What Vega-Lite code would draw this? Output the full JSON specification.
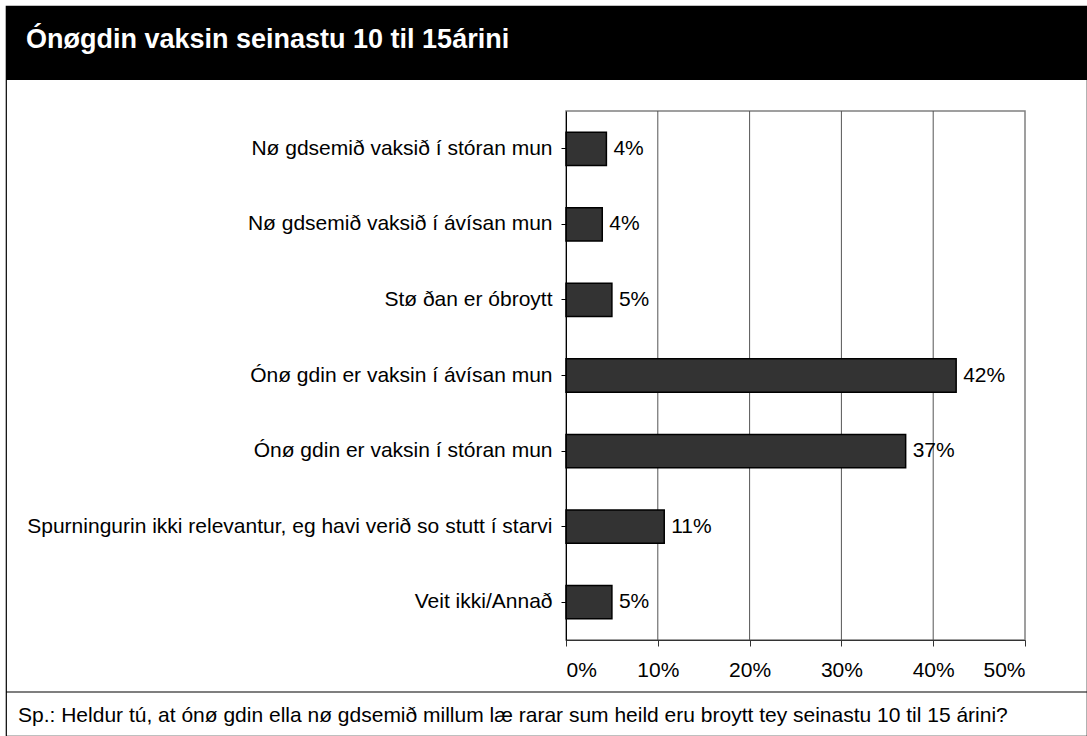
{
  "$schema": "https://vega.github.io/schema/vega-lite/v6.json",
  "background": "white",
  "autosize": {"type": "none"},
  "padding": {"left": 6, "top": 6, "right": 0, "bottom": 0},
  "width": 1081,
  "height": 730,
  "config": {"font": "Liberation Sans"},
  "view": {"stroke": "black", "strokeWidth": 1.2, "fill": "white"},
  "datasets": {
    "bars": [
      {"cat": "Nø gdsemið vaksið í stóran mun", "value": 0.044, "label": "4%"},
      {"cat": "Nø gdsemið vaksið í ávísan mun", "value": 0.0395, "label": "4%"},
      {"cat": "Stø ðan er óbroytt", "value": 0.050, "label": "5%"},
      {"cat": "Ónø gdin er vaksin í ávísan mun", "value": 0.425, "label": "42%"},
      {"cat": "Ónø gdin er vaksin í stóran mun", "value": 0.370, "label": "37%"},
      {"cat": "Spurningurin ikki relevantur, eg havi verið so stutt í starvi", "value": 0.107, "label": "11%"},
      {"cat": "Veit ikki/Annað", "value": 0.050, "label": "5%"}
    ]
  },
  "layer": [
    {
      "data": {"values": [{"part": "header"}]},
      "mark": {"type": "rect", "color": "black"},
      "encoding": {"x": {"value": 0}, "x2": {"value": 1081}, "y": {"value": 0}, "y2": {"value": 74}}
    },
    {
      "data": {"values": [{"t": "Ónøgdin vaksin seinastu 10 til 15árini"}]},
      "mark": {"type": "text", "fontSize": 27, "color": "white", "fontWeight": "bold", "align": "left", "baseline": "alphabetic"},
      "encoding": {"text": {"field": "t"}, "x": {"value": 20}, "y": {"value": 42}}
    },
    {
      "data": {"values": [{"part": "divider"}]},
      "mark": {"type": "rule", "color": "black", "strokeWidth": 1.2},
      "encoding": {"x": {"value": 0}, "x2": {"value": 1081}, "y": {"value": 686}}
    },
    {
      "data": {"values": [{"t": "Sp.: Heldur tú, at ónø gdin ella nø gdsemið millum læ rarar sum heild eru broytt tey seinastu 10 til 15 árini?"}]},
      "mark": {"type": "text", "fontSize": 21, "color": "black", "align": "left", "baseline": "alphabetic"},
      "encoding": {"text": {"field": "t"}, "x": {"value": 12}, "y": {"value": 716}}
    },
    {
      "data": {"values": [{"x0": 0, "x1": 0.5, "lo": 0, "hi": 1}]},
      "mark": {"type": "rect", "fillOpacity": 0, "stroke": "#808080", "strokeWidth": 1.5},
      "encoding": {
        "x": {"field": "x0", "type": "quantitative", "scale": {"domain": [0, 0.5], "range": [560, 1019], "nice": false, "zero": true}, "axis": {"title": null}},
        "x2": {"field": "x1"},
        "y": {"field": "lo", "type": "quantitative", "scale": {"domain": [0, 1], "range": [634, 105], "nice": false}, "axis": null},
        "y2": {"field": "hi"}
      }
    },
    {
      "data": {"values": [
        {"g": 0.1, "lo": 0, "hi": 1},
        {"g": 0.2, "lo": 0, "hi": 1},
        {"g": 0.3, "lo": 0, "hi": 1},
        {"g": 0.4, "lo": 0, "hi": 1}
      ]},
      "mark": {"type": "rule", "color": "#555555", "strokeWidth": 1},
      "encoding": {
        "x": {"field": "g", "type": "quantitative", "scale": {"domain": [0, 0.5], "range": [560, 1019], "nice": false, "zero": true}, "axis": {"title": null}},
        "y": {"field": "lo", "type": "quantitative", "scale": {"domain": [0, 1], "range": [634, 105], "nice": false}, "axis": null},
        "y2": {"field": "hi"}
      }
    },
    {
      "data": {"name": "bars"},
      "mark": {"type": "bar", "color": "#333333", "stroke": "black", "strokeWidth": 1.5},
      "encoding": {
        "y": {
          "field": "cat", "type": "nominal", "sort": null,
          "scale": {"type": "band", "range": [105, 634], "paddingInner": 0.56, "paddingOuter": 0.28},
          "axis": {
            "title": null,
            "orient": "left",
            "offset": -560,
            "zindex": 2,
            "domainColor": "black",
            "tickColor": "black",
            "tickSize": 5,
            "labelFontSize": 21,
            "labelColor": "black",
            "labelPadding": 9,
            "labelLimit": 700
          }
        },
        "x": {
          "field": "value", "type": "quantitative",
          "scale": {"domain": [0, 0.5], "range": [560, 1019], "nice": false, "zero": true},
          "axis": {
            "title": null,
            "orient": "bottom",
            "offset": -96,
            "zindex": 2,
            "values": [0, 0.1, 0.2, 0.3, 0.4, 0.5],
            "format": ".0%",
            "grid": false,
            "domainColor": "#333333",
            "tickColor": "#333333",
            "tickSize": 6,
            "labelFontSize": 21,
            "labelColor": "black",
            "labelPadding": 13
          }
        }
      }
    },
    {
      "data": {"name": "bars"},
      "mark": {"type": "text", "align": "left", "baseline": "middle", "dx": 7, "fontSize": 21, "color": "black"},
      "encoding": {
        "y": {
          "field": "cat", "type": "nominal", "sort": null,
          "scale": {"type": "band", "range": [105, 634], "paddingInner": 0.56, "paddingOuter": 0.28},
          "axis": null
        },
        "x": {
          "field": "value", "type": "quantitative",
          "scale": {"domain": [0, 0.5], "range": [560, 1019], "nice": false, "zero": true},
          "axis": {"title": null}
        },
        "text": {"field": "label"}
      }
    }
  ],
  "resolve": {"scale": {"y": "independent"}, "axis": {"y": "independent"}}
}
